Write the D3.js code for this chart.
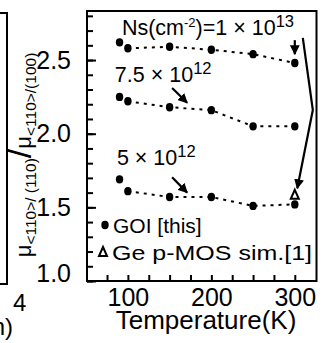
<!DOCTYPE html>
<html><head><meta charset="utf-8">
<script src="https://cdn.jsdelivr.net/npm/d3@7"></script>
<style>
html,body{margin:0;padding:0;background:#fff;}
svg{display:block;font-family:"Liberation Sans",Arial,sans-serif;}
</style></head>
<body>
<svg id="c" width="329" height="343"></svg>
<script>
// ---- data ----
const temps = [90, 100, 150, 200, 250, 300];
const goi1e13 = [2.62, 2.58, 2.59, 2.57, 2.54, 2.48];
const goi75e12 = [2.25, 2.22, 2.18, 2.16, 2.05, 2.05];
const goi5e12 = [1.69, 1.61, 1.57, 1.57, 1.51, 1.52];
const simTemps = [300];
const simValues = [1.585];
const xTickValues = [75, 100, 125, 150, 175, 200, 225, 250, 275, 300];
const xTickLabels = [100, 200, 300];
const yMajorTicks = [1.0, 1.5, 2.0, 2.5];
const yMinorTicks = d3.range(10, 29).map(d => d / 10);

const svg = d3.select("#c");
const x = d3.scaleLinear().domain([51, 326]).range([87, 316.5]);
const y = d3.scaleLinear().domain([1.0, 2.833]).range([281, 11]);

// left partial panel frame
svg.append("path").attr("d", "M0,13H7V284H0").attr("fill", "none").attr("stroke", "#000").attr("stroke-width", 2);
svg.append("text").attr("x", 13).attr("y", 311).attr("font-size", 24).text("4");
svg.append("text").attr("x", 13).attr("y", 335).attr("font-size", 24).attr("text-anchor", "end").text("n)");

// frame
svg.append("rect").attr("x", x.range()[0]).attr("y", y.range()[1])
  .attr("width", x.range()[1] - x.range()[0]).attr("height", y.range()[0] - y.range()[1])
  .attr("fill", "none").attr("stroke", "#000").attr("stroke-width", 2);

// y axis (ticks inward)
const yMinor = d3.axisRight(y).tickValues(yMinorTicks).tickSize(6).tickFormat("");
svg.append("g").attr("transform", `translate(${x.range()[0]},0)`).call(yMinor)
  .call(g => g.select(".domain").remove())
  .call(g => g.selectAll("line").attr("stroke-width", 2));
const yMajor = d3.axisLeft(y).tickValues(yMajorTicks).tickSize(-9).tickPadding(16).tickFormat(d3.format(".1f"));
svg.append("g").attr("transform", `translate(${x.range()[0]},0)`).call(yMajor)
  .call(g => g.select(".domain").remove())
  .call(g => g.selectAll("line").attr("stroke-width", 2))
  .call(g => g.selectAll("text").attr("font-size", 25).attr("font-family", "Liberation Sans, Arial, sans-serif").attr("fill", "#000")
     .attr("dy", d => d === 1.0 ? "0em" : "0.32em"));

// x axis
const xAx = d3.axisBottom(x).tickValues(xTickValues).tickSize(-6)
  .tickFormat(d => xTickLabels.includes(d) ? d : "").tickPadding(7);
svg.append("g").attr("transform", `translate(0,${y.range()[0]})`).call(xAx)
  .call(g => g.select(".domain").remove())
  .call(g => g.selectAll("line").attr("stroke-width", 2))
  .call(g => g.selectAll("text").attr("font-size", 25).attr("font-family", "Liberation Sans, Arial, sans-serif").attr("fill", "#000"));

svg.append("text").attr("x", 206).attr("y", 329).attr("text-anchor", "middle").attr("font-size", 26)
  .text("Temperature(K)");

// y axis title
const yt = svg.append("text").attr("transform", "translate(31,155) rotate(-90)").attr("text-anchor", "middle").attr("font-size", 22);
yt.append("tspan").text("μ");
yt.append("tspan").attr("font-size", 15.5).attr("dy", 5).text("<110>/ (110)");
yt.append("tspan").attr("font-size", 34).attr("dy", -5).text("/");
yt.append("tspan").text("μ");
yt.append("tspan").attr("font-size", 15.5).attr("dy", 5).text("<110>/(100)");

// series
const line = d3.line().x(d => x(d[0])).y(d => y(d[1]));
[goi1e13, goi75e12, goi5e12].forEach(vals => {
  const pts = temps.map((t, i) => [t, vals[i]]);
  svg.append("path").attr("d", line(pts.slice(1))).attr("fill", "none").attr("stroke", "#000")
    .attr("stroke-width", 2).attr("stroke-dasharray", "3,5");
  svg.selectAll(null).data(pts).enter().append("ellipse")
    .attr("cx", d => x(d[0])).attr("cy", d => y(d[1])).attr("rx", 3.7).attr("ry", 4.2).attr("fill", "#000");
});
// simulation triangle
svg.selectAll(null).data(simTemps.map((t, i) => [t, simValues[i]])).enter().append("path")
  .attr("transform", d => `translate(${x(d[0])},${y(d[1])})`)
  .attr("d", "M0,-5L4,4H-4Z").attr("fill", "#fff").attr("stroke", "#000").attr("stroke-width", 2);

// arrow marker
svg.append("defs").append("marker").attr("id", "ah").attr("viewBox", "0 0 10 10")
  .attr("refX", 9).attr("refY", 5).attr("markerWidth", 4.5).attr("markerHeight", 4.5)
  .attr("orient", "auto").attr("markerUnits", "strokeWidth")
  .append("path").attr("d", "M0,0L10,5L0,10Z").attr("fill", "#000");

const arrow = pts => svg.append("path").attr("d", d3.line().x(d => x(d[0])).y(d => y(d[1]))(pts))
  .attr("fill", "none").attr("stroke", "#000").attr("stroke-width", 2.2).attr("marker-end", "url(#ah)");
arrow([[300, 2.635], [300, 2.54]]);
arrow([[153, 2.31], [171, 2.21]]);
arrow([[153, 1.705], [171, 1.60]]);
arrow([[309.6, 2.65], [321.6, 2.161], [303, 1.63]]);

// annotations
const t1 = svg.append("text").attr("x", x(92.8)).attr("y", y(2.67)).attr("font-size", 21.5);
t1.append("tspan").text("Ns(cm");
t1.append("tspan").attr("font-size", 13).attr("dy", -8).text("-2");
t1.append("tspan").attr("dy", 8).text(")=1 × 10");
t1.append("tspan").attr("font-size", 16.5).attr("dy", -8).text("13");

const t2 = svg.append("text").attr("x", x(84.4)).attr("y", y(2.351)).attr("font-size", 21.5);
t2.append("tspan").text("7.5 × 10");
t2.append("tspan").attr("font-size", 16.5).attr("dy", -8).text("12");

const t3 = svg.append("text").attr("x", x(86.8)).attr("y", y(1.788)).attr("font-size", 21.5);
t3.append("tspan").text("5 × 10");
t3.append("tspan").attr("font-size", 16.5).attr("dy", -8).text("12");

// legend
svg.append("ellipse").attr("cx", 105).attr("cy", 225).attr("rx", 3.7).attr("ry", 4.2).attr("fill", "#000");
svg.append("text").attr("x", 113).attr("y", 233).attr("font-size", 21).text("GOI [this]");
svg.append("path").attr("transform", "translate(103,252)").attr("d", "M0,-5L4,4H-4Z")
  .attr("fill", "#fff").attr("stroke", "#000").attr("stroke-width", 2);
svg.append("text").attr("x", 112).attr("y", 260).attr("font-size", 21).attr("textLength", 200)
  .attr("lengthAdjust", "spacingAndGlyphs").text("Ge p-MOS sim.[1]");
</script>
</body></html>
